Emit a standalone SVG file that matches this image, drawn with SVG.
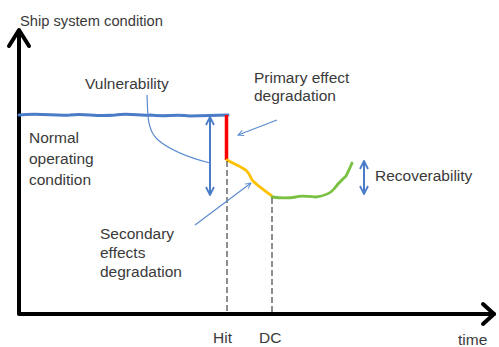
<svg xmlns="http://www.w3.org/2000/svg" width="499" height="347" viewBox="0 0 499 347">
  <defs>
    <marker id="open-blue" viewBox="0 0 10 10" refX="9" refY="5" markerWidth="7" markerHeight="7" markerUnits="userSpaceOnUse" orient="auto-start-reverse">
      <path d="M1,1 L9,5 L1,9" fill="none" stroke="#5b8bd0" stroke-width="1.4"/>
    </marker>
    <marker id="open-blue-lg" viewBox="0 0 10 10" refX="9" refY="5" markerWidth="10" markerHeight="10" markerUnits="userSpaceOnUse" orient="auto-start-reverse">
      <path d="M1,1 L9,5 L1,9" fill="none" stroke="#4a7cc7" stroke-width="1.8"/>
    </marker>
  </defs>
  <style>
    text { font-family: "Liberation Sans", Arial, sans-serif; font-size: 15.5px; fill: #3a3a3a; }
    .axis-title { font-size: 14.7px; }
    .axis { fill: none; stroke: #000; stroke-width: 4; stroke-linecap: round; stroke-linejoin: round; }
    .leader { fill: none; stroke: #5b8bd0; stroke-width: 1.2; }
    .dim { fill: none; stroke: #4a7cc7; stroke-width: 2; }
    .guide { fill: none; stroke: #444; stroke-width: 1.2; stroke-dasharray: 6 3; }
  </style>
  <rect width="499" height="347" fill="#fff"/>

  <!-- axes -->
  <g id="axes">
    <path class="axis" d="M19,313 L19,31"/>
    <path class="axis" d="M9,46 L19,30 L29,46"/>
    <path class="axis" d="M19,314 L494,314"/>
    <path class="axis" d="M483,304 L494,314 L483,324"/>
    <text class="axis-title" x="20" y="26">Ship system condition</text>
    <text x="458" y="345">time</text>
    <text x="213" y="343">Hit</text>
    <text x="259" y="343">DC</text>
  </g>

  <!-- system condition curve -->
  <g id="curve">
    <path d="M19,115 C40,113 55,116 70,115 C85,113 95,117 115,115 C130,113 140,116 150,115 C165,117 175,114 190,116 L228,115" fill="none" stroke="#4a7cc7" stroke-width="3" stroke-linecap="round"/>
    <path d="M226.5,115 L226.5,160" fill="none" stroke="#ff0000" stroke-width="3.5"/>
    <path d="M227,160 C232,163 238,165 244,169 C250,172 250,178 253,181 C258,186 264,190 272,196" fill="none" stroke="#ffc000" stroke-width="2.8" stroke-linecap="round"/>
    <path d="M272,197 C280,198 290,198 296,197 C300,195 306,196 316,197 C324,196 330,194 334,189 C338,183 342,180 346,176 C348,172 350,168 352,163" fill="none" stroke="#7ac143" stroke-width="2.8" stroke-linecap="round"/>
  </g>

  <!-- event guides -->
  <g id="guides">
    <path class="guide" d="M227,161 L227,313"/>
    <path class="guide" d="M272,198 L272,313"/>
  </g>

  <!-- dimension arrows and leaders -->
  <g id="connectors">
    <path class="dim" d="M210,117 L210,195" marker-start="url(#open-blue-lg)" marker-end="url(#open-blue-lg)"/>
    <path class="dim" d="M364,161 L364,194" marker-start="url(#open-blue-lg)" marker-end="url(#open-blue-lg)"/>
    <path class="leader" d="M147,95 C148,110 146,130 158,140 C170,150 190,158 210,163"/>
    <path class="leader" d="M277,120 L238,135" marker-end="url(#open-blue)"/>
    <path class="leader" d="M195,225 L251,183" marker-end="url(#open-blue)"/>
  </g>

  <!-- annotations -->
  <g id="label-vulnerability">
    <text x="85" y="89">Vulnerability</text>
  </g>
  <g id="label-normal">
    <text x="29" y="143">Normal</text>
    <text x="29" y="164">operating</text>
    <text x="29" y="185">condition</text>
  </g>
  <g id="label-primary">
    <text x="254" y="83">Primary effect</text>
    <text x="254" y="101">degradation</text>
  </g>
  <g id="label-secondary">
    <text x="100" y="239">Secondary</text>
    <text x="100" y="258">effects</text>
    <text x="100" y="277">degradation</text>
  </g>
  <g id="label-recoverability">
    <text x="375" y="181">Recoverability</text>
  </g>
</svg>
